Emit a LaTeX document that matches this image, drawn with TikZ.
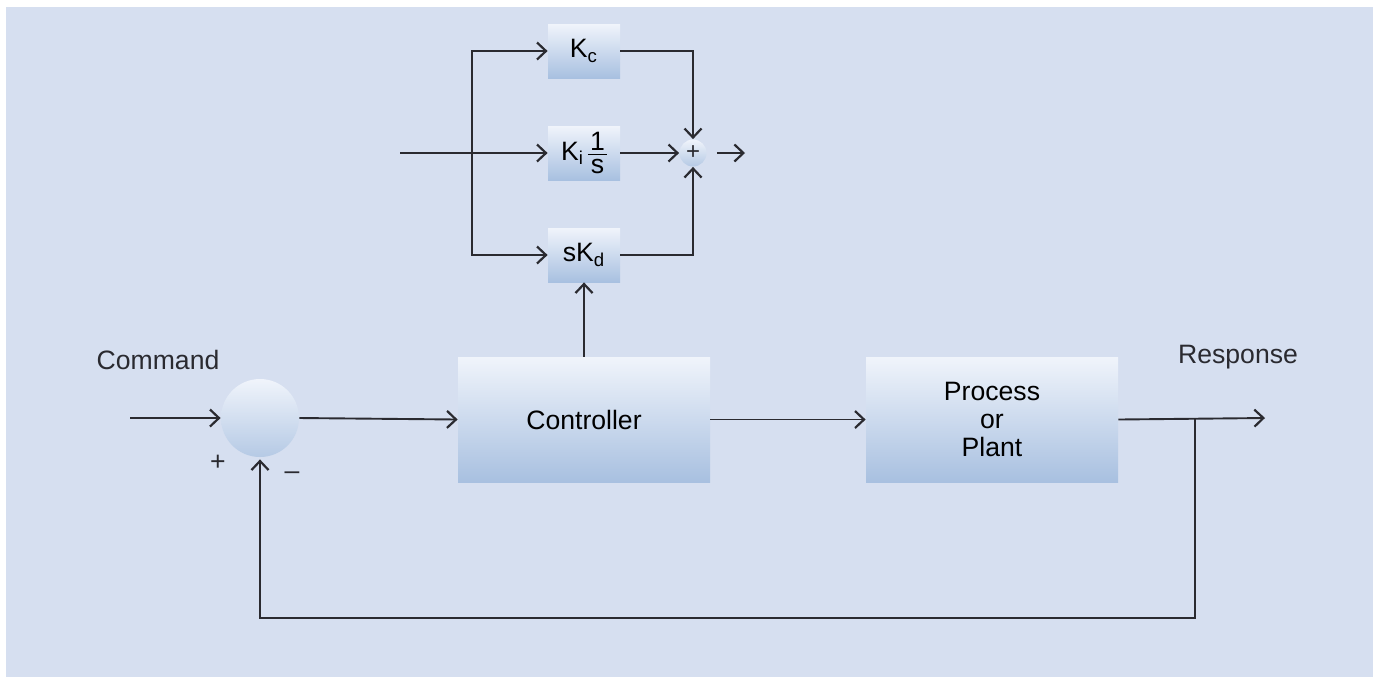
\documentclass[tikz,border=0pt]{standalone}
\usepackage{fontspec}
\setmainfont{Liberation Sans}
\usetikzlibrary{arrows.meta}
\definecolor{panel}{HTML}{D6DFF0}
\definecolor{boxtop}{HTML}{F0F4FB}
\definecolor{boxbot}{HTML}{A8C0E0}
\definecolor{ink}{HTML}{2A2A30}
% stacked fraction set in the text font
\newcommand\stackfrac[2]{\ensuremath{\vcenter{\offinterlineskip
  \hbox to 9.5pt{\hfil#1\hfil}\kern2pt\hrule height0.6pt\kern2pt
  \hbox to 9.5pt{\hfil#2\hfil}}}}
\tikzset{
  blk/.style={rectangle, top color=boxtop, bottom color=boxbot, draw=none,
    inner sep=0pt, align=center},
  bigblk/.style={blk, minimum width=126pt, minimum height=62.5pt},
  gain/.style={blk, minimum width=36pt, minimum height=27pt},
  sumball/.style={circle, top color=boxtop, bottom color=boxbot!85!white, draw=none, inner sep=0pt},
  arr/.style={draw=ink, line width=0.95pt, -{Straight Barb[length=4.5pt,width=8.5pt,line width=1.1pt]}},
  lbl/.style={text=ink, inner sep=0pt},
}
\begin{document}
\begin{tikzpicture}[x=0.5pt, y=-0.5pt,
  every node/.style={font=\fontsize{13.3}{13.9}\selectfont}]
\useasboundingbox (0,0) rectangle (1379,677);
\fill[panel] (6,7) rectangle (1373,677);

% main loop blocks
\node[bigblk] (ctrl) at (584,419.5) {Controller};
\node[bigblk] (plant) at (992,419.5) {Process\\or\\Plant};
\node[sumball, minimum size=39pt] (sum) at (260,418) {};

% PID branch blocks
\node[gain] (kc) at (584,51) {K\textsubscript{c}};
\node[gain] (ki) at (584,153) {K\textsubscript{i}\kern2pt\stackfrac{1}{s}};
\node[gain] (kd) at (584,255) {sK\textsubscript{d}};
\node[sumball, minimum size=13.5pt] (psum) at (693,153) {};
\node[lbl, font=\fontsize{12}{12}\selectfont] at (693,153) {+};

% free ends and junctions
\coordinate (cin) at (130,418);
\coordinate (rout) at (1265,418);
\coordinate (tap) at (1195,418);
\coordinate (fb) at (1195,618);
\coordinate (kin) at (400,153);
\coordinate (split) at (472,153);
\coordinate (pout) at (745,153);

% labels
\node[lbl] at (158,360) {Command};
\node[lbl] at (1238,357) {Response};
\node[lbl] at (218,463) {+};
\node[lbl] at (292,476) {–};

% main loop signals
\draw[arr] (cin) -- (sum.west);
\draw[arr] (sum.east) -- (ctrl.west);
\draw[arr] (ctrl.east) -- (plant.west);
\draw[arr] (plant.east) -- (rout);
\draw[arr] (tap) -- (fb) -| ([yshift=-1pt]sum.south);
\draw[arr] (ctrl.north) -- (kd.south);

% PID branches
\draw[arr] (kin) -- (ki.west);
\draw[arr] (split) |- (kc.west);
\draw[arr] (split) |- (kd.west);
\draw[arr] (kc.east) -| (psum.north);
\draw[arr] (ki.east) -- (psum.west);
\draw[arr] (kd.east) -| (psum.south);
\draw[arr, shorten <=5pt] (psum.east) -- (pout);
\end{tikzpicture}
\end{document}
